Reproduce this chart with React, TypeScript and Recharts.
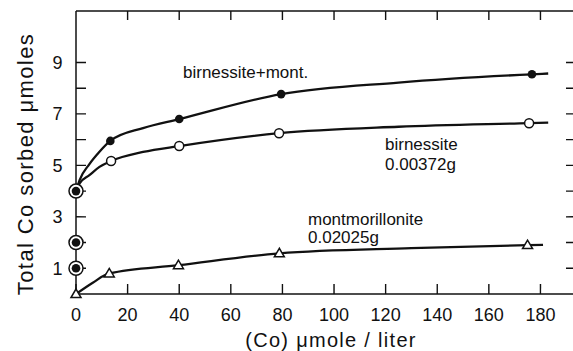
import React from 'react';
import { ComposedChart, Line, Scatter, XAxis, YAxis } from 'recharts';

// Measured points: (Co) µmole/liter vs total Co sorbed (µmoles)
const birnMontX = [0, 13.3, 40, 79.5, 176.7];
const birnMontY = [4, 5.95, 6.8, 7.77, 8.54];
const birnX = [0, 13.6, 40, 78.7, 175.6];
const birnY = [4, 5.17, 5.75, 6.25, 6.64];
const montX = [0, 12.9, 39.7, 78.8, 175];
const montY = [0, 0.8, 1.12, 1.58, 1.9];
// circled points at (Co)=0
const initialY = [1, 2, 4];

// Drawn fitted curves
const birnMontCurveX = [0, 1.4, 5.2, 9.1, 13.3, 26, 40, 79.5, 125, 176.7, 183];
const birnMontCurveY = [4, 4.43, 5.05, 5.53, 5.95, 6.45, 6.8, 7.77, 8.22, 8.54, 8.57];
const birnCurveX = [0, 1.4, 5.2, 9.1, 13.6, 26, 40, 78.7, 125, 175.6, 183];
const birnCurveY = [4, 4.3, 4.62, 4.94, 5.17, 5.52, 5.75, 6.25, 6.5, 6.64, 6.66];
const montCurveX = [0, 6.5, 12.9, 39.7, 78.8, 130, 175, 181];
const montCurveY = [0, 0.44, 0.8, 1.12, 1.58, 1.78, 1.9, 1.91];

const xTicks = [0, 20, 40, 60, 80, 100, 120, 140, 160, 180];
const xTopTicks = [20, 40, 60, 80, 100, 120, 140, 160, 180];
const yTicks = [1, 2, 3, 4, 5, 6, 7, 8, 9];
const yLabelled = [1, 3, 5, 7, 9];

const X_DOMAIN: [number, number] = [0, 193];
const Y_DOMAIN: [number, number] = [0, 11];

const zip = (xs: number[], ys: number[]) => xs.map((x, i) => ({ x, y: ys[i] }));

const bmPts = zip(birnMontX, birnMontY);
const bPts = zip(birnX, birnY);
const mPts = zip(montX, montY);
const initPts = initialY.map((y) => ({ x: 0, y }));

// inward frame tick marks, placed through the chart's own scales
const bottomTickPts = xTicks.map((x) => ({ x, y: Y_DOMAIN[0] }));
const topTickPts = xTopTicks.map((x) => ({ x, y: Y_DOMAIN[1] }));
const leftTickPts = yTicks.map((y) => ({ x: X_DOMAIN[0], y }));
const rightTickPts = yTicks.map((y) => ({ x: X_DOMAIN[1], y }));
// top frame edge
const topEdge = [
  { x: X_DOMAIN[0], y: Y_DOMAIN[1] },
  { x: X_DOMAIN[1], y: Y_DOMAIN[1] },
];

const INK = '#111';
const FONT = '"Liberation Sans", Arial, sans-serif';

const FilledDot = (p: any) => <circle cx={p.cx} cy={p.cy} r={4.3} fill={INK} />;
const OpenDot = (p: any) => <circle cx={p.cx} cy={p.cy} r={4.5} fill="#fff" stroke={INK} strokeWidth={1.5} />;
const Tri = (p: any) => (
  <polygon
    points={`${p.cx},${p.cy - 5} ${p.cx - 5},${p.cy + 3.5} ${p.cx + 5},${p.cy + 3.5}`}
    fill="#fff"
    stroke={INK}
    strokeWidth={1.5}
  />
);
const Ring = (p: any) => (
  <g>
    <circle cx={p.cx} cy={p.cy} r={7} fill="#fff" stroke={INK} strokeWidth={1.5} />
    <circle cx={p.cx} cy={p.cy} r={4.3} fill={INK} />
  </g>
);
const seg = (x0: number, y0: number, x1: number, y1: number) => (
  <path d={`M ${x0} ${y0} L ${x1} ${y1}`} stroke={INK} strokeWidth={1.4} fill="none" />
);
const TickUp = (p: any) => seg(p.cx, p.cy, p.cx + 0.01, p.cy - 10);
const TickDown = (p: any) => seg(p.cx, p.cy, p.cx + 0.01, p.cy + 9);
const TickRight = (p: any) => seg(p.cx, p.cy, p.cx + 10, p.cy + 0.01);
const TickLeft = (p: any) => seg(p.cx, p.cy, p.cx - 8, p.cy + 0.01);

const BottomLabel = (p: any) => (
  <text x={p.x} y={p.y + 26.5} textAnchor="middle" fill={INK} stroke="none" fontSize={18} fontFamily={FONT}>
    {p.payload.value}
  </text>
);
const LeftLabel = (p: any) =>
  yLabelled.includes(p.payload.value) ? (
    <text x={p.x - 13.5} y={p.y + 6.5} textAnchor="end" fill={INK} stroke="none" fontSize={18} fontFamily={FONT}>
      {p.payload.value}
    </text>
  ) : (
    <g />
  );

const W = 590;
const H = 351;

export default function App() {
  return (
    <div style={{ position: 'absolute', left: 0, top: 0, width: 573, height: 351, overflow: 'hidden', background: '#fff' }}>
      <ComposedChart width={W} height={H} margin={{ top: 11, right: 16, bottom: 0, left: 0 }}>
        <XAxis
          xAxisId="bottom"
          dataKey="x"
          type="number"
          domain={X_DOMAIN}
          ticks={xTicks}
          interval={0}
          height={57}
          axisLine={{ stroke: INK, strokeWidth: 1.5 }}
          tickLine={false}
          tickSize={0}
          tickMargin={0}
          tick={BottomLabel}
          label={{
            content: (p: any) => {
              const vb = p.viewBox || { x: 76, y: 294, width: 498, height: 57 };
              return (
                <text
                  x={vb.x + vb.width / 2 + 6}
                  y={vb.y + 53}
                  textAnchor="middle"
                  fill={INK}
                  fontSize={20}
                  fontFamily={FONT}
                  letterSpacing={1.3}
                >
                  (Co) μmole / liter
                </text>
              );
            },
          }}
        />
        <YAxis
          yAxisId="left"
          type="number"
          domain={Y_DOMAIN}
          ticks={yTicks}
          interval={0}
          width={76}
          axisLine={{ stroke: INK, strokeWidth: 1.5 }}
          tickLine={false}
          tickSize={0}
          tickMargin={0}
          tick={LeftLabel}
          label={{
            content: (p: any) => {
              const vb = p.viewBox || { x: 0, y: 11, width: 76, height: 283 };
              const cx = vb.x + 25;
              const cy = vb.y + vb.height / 2 + 11.5;
              return (
                <text
                  x={cx}
                  y={cy}
                  transform={`rotate(-90 ${cx} ${cy})`}
                  textAnchor="middle"
                  dominantBaseline="central"
                  fill={INK}
                  fontSize={22}
                  fontFamily={FONT}
                  letterSpacing={1.4}
                >
                  Total Co sorbed μmoles
                </text>
              );
            },
          }}
        />

        <Line xAxisId="bottom" yAxisId="left" data={topEdge} dataKey="y" type="linear" stroke={INK} strokeWidth={1.5} dot={false} isAnimationActive={false} />

        <Scatter xAxisId="bottom" yAxisId="left" data={bottomTickPts} dataKey="y" shape={TickUp} isAnimationActive={false} />
        <Scatter xAxisId="bottom" yAxisId="left" data={topTickPts} dataKey="y" shape={TickDown} isAnimationActive={false} />
        <Scatter xAxisId="bottom" yAxisId="left" data={leftTickPts} dataKey="y" shape={TickRight} isAnimationActive={false} />
        <Scatter xAxisId="bottom" yAxisId="left" data={rightTickPts} dataKey="y" shape={TickLeft} isAnimationActive={false} />

        <Line xAxisId="bottom" yAxisId="left" data={zip(birnMontCurveX, birnMontCurveY)} dataKey="y" type="monotone" stroke={INK} strokeWidth={2.3} dot={false} isAnimationActive={false} />
        <Line xAxisId="bottom" yAxisId="left" data={zip(birnCurveX, birnCurveY)} dataKey="y" type="monotone" stroke={INK} strokeWidth={2.3} dot={false} isAnimationActive={false} />
        <Line xAxisId="bottom" yAxisId="left" data={zip(montCurveX, montCurveY)} dataKey="y" type="monotone" stroke={INK} strokeWidth={2.3} dot={false} isAnimationActive={false} />

        <Scatter xAxisId="bottom" yAxisId="left" data={bmPts} dataKey="y" shape={FilledDot} isAnimationActive={false} />
        <Scatter xAxisId="bottom" yAxisId="left" data={bPts} dataKey="y" shape={OpenDot} isAnimationActive={false} />
        <Scatter xAxisId="bottom" yAxisId="left" data={mPts} dataKey="y" shape={Tri} isAnimationActive={false} />
        <Scatter xAxisId="bottom" yAxisId="left" data={initPts} dataKey="y" shape={Ring} isAnimationActive={false} />
      </ComposedChart>
      <svg width={573} height={351} style={{ position: 'absolute', left: 0, top: 0, pointerEvents: 'none' }}>
        <g fill={INK} fontFamily={FONT} fontSize={17}>
          <text x={183} y={78}>birnessite+mont.</text>
          <text x={385} y={150}>birnessite</text>
          <text x={385} y={170}>0.00372g</text>
          <text x={308} y={225}>montmorillonite</text>
          <text x={308} y={243}>0.02025g</text>
        </g>
      </svg>
    </div>
  );
}
